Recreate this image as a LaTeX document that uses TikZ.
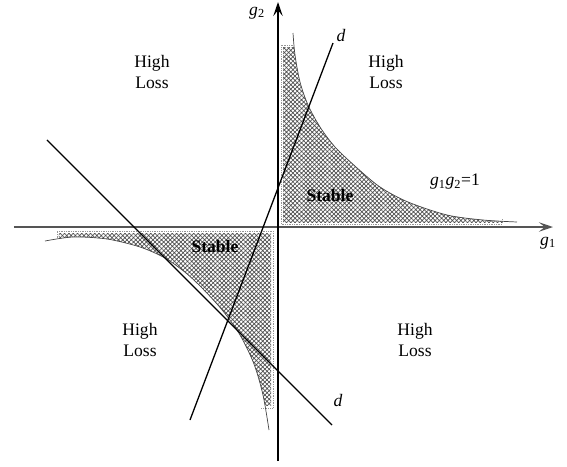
\documentclass[tikz,border=0pt]{standalone}
\usepackage{fontspec}
\setmainfont{Liberation Serif}
\usepackage{tikz}
\usetikzlibrary{arrows.meta,patterns.meta}
\definecolor{grisAxe}{RGB}{85,85,85}
\definecolor{grisCourbe}{RGB}{70,70,70}
\definecolor{grisHachure}{RGB}{80,80,80}
\definecolor{grisBord}{RGB}{150,150,150}

\begin{document}
\begin{tikzpicture}[x=0.03cm,y=0.03cm,font=\fontsize{15}{18.5}\selectfont,
  axe/.style={line width=1.2pt,-{Stealth[length=12pt,width=8pt,inset=5pt]}},
  droite/.style={line width=1.1pt},
  courbe/.style={draw=grisCourbe,line width=0.6pt},
  zone/.style={pattern={Hatch[angle=45,distance=2.6pt,line width=0.6pt]},pattern color=grisHachure},
  bord/.style={draw=grisBord,densely dotted,line width=0.5pt},
  perte/.style={align=center}]

  \useasboundingbox (-278,-239) rectangle (289,227);

  \begin{scope}
    \clip (5,5) rectangle (224,180);
    \fill[zone] (0,0) -- (0,194) -- plot[smooth] coordinates {(15,194) (17,172) (22,145) (30,122) (42,100) (57,80)
      (78,60) (102,40) (130,25) (169,12) (205,7) (239,5)} -- (239,0) -- cycle;
  \end{scope}
  \begin{scope}
    \clip (-219,-6) rectangle (-7,-178);
    \fill[zone] (0,0) -- (-233,0) -- plot[smooth] coordinates {(-233,-14) (-205,-10) (-171,-12) (-138,-20) (-113,-31)
      (-92,-46) (-74,-63) (-55,-84) (-38,-108) (-24,-137) (-15,-168) (-9,-203)} -- (0,-203) -- cycle;
  \end{scope}
  \draw[bord] (15,182) -- (3,182) -- (3,3) -- (224,3) -- (224,9);
  \draw[bord] (-221,-11) -- (-221,-4) -- (-5,-4) -- (-5,-181) -- (-17,-181);

  \draw[courbe] plot[smooth] coordinates {(15,194) (17,172) (22,145) (30,122) (42,100) (57,80)
    (78,60) (102,40) (130,25) (169,12) (205,7) (239,5)};
  \draw[courbe] plot[smooth] coordinates {(-233,-14) (-205,-10) (-171,-12) (-138,-20) (-113,-31)
    (-92,-46) (-74,-63) (-55,-84) (-38,-108) (-24,-137) (-15,-168) (-9,-203)};

  \coordinate (Gauche) at (-264,0);
  \coordinate (Droite) at (275,0);
  \coordinate (Bas) at (0,-234);
  \coordinate (Haut) at (0,225);
  \draw[axe,draw=grisAxe,line width=1.5pt] (Gauche) -- (Droite);
  \draw[axe] (Bas) -- (Haut);
  \node (G1) at (270,-16) {\textit{g}\textsubscript{1}};
  \node (G2) at (-21,214) {\textit{g}\textsubscript{2}};

  \coordinate (D1a) at (-88,-193);
  \coordinate (D1b) at (55,184);
  \coordinate (D2a) at (-231,87);
  \coordinate (D2b) at (54,-198);
  \draw[droite] (D1a) -- (D1b);
  \draw[droite] (D2a) -- (D2b);
  \node (D1) at (63,192) {\textit{d}};
  \node (D2) at (60,-173) {\textit{d}};

  \node[perte] (PHG) at (-126,155) {High\\Loss};
  \node[perte] (PHD) at (108,155) {High\\Loss};
  \node[perte] (PBG) at (-138,-113) {High\\Loss};
  \node[perte] (PBD) at (137,-113) {High\\Loss};
  \node[font=\fontsize{15}{18.5}\selectfont\bfseries] (S1) at (52,32) {Stable};
  \node[font=\fontsize{15}{18.5}\selectfont\bfseries] (S2) at (-63,-19) {Stable};
  \node (HYP) at (177,45) {\textit{g}\textsubscript{1}\textit{g}\textsubscript{2}=1};
\end{tikzpicture}
\end{document}
